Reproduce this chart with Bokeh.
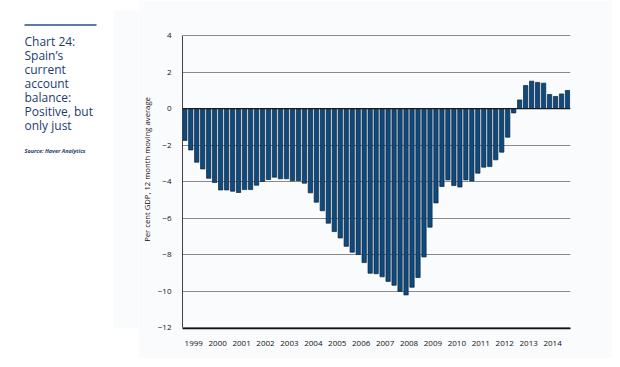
import numpy as np
from bokeh.plotting import figure
from bokeh.models import Range1d, FixedTicker, Span
from bokeh.layouts import row
from bokeh.core.properties import value
from bokeh.embed import file_html
from bokeh.resources import INLINE

# Spain current account balance, % of GDP, 12 month moving average (quarterly, 1999 Q1 - 2015 Q1)
balance = [
    -1.75, -2.27, -2.94, -3.31, -3.82, -4.05, -4.46, -4.46, -4.53, -4.60, -4.44,
    -4.44, -4.20, -4.00, -3.89, -3.76, -3.85, -3.85, -3.96, -3.95, -4.09,
    -4.62, -5.13, -5.60, -6.28, -6.74, -7.09, -7.55, -7.87, -8.00, -8.44, -9.02,
    -9.05, -9.22, -9.47, -9.68, -10.02, -10.21, -9.79, -9.26, -8.13, -6.50, -5.17,
    -4.27, -3.91, -4.22, -4.30, -3.91, -3.97, -3.54, -3.21, -3.18, -2.81, -2.39,
    -1.57, -0.24, 0.47, 1.26, 1.50, 1.43, 1.39, 0.77, 0.66, 0.80, 0.99,
]
years = [str(y) for y in range(1999, 2015)]
y_ticks = [-12, -10, -8, -6, -4, -2, 0, 2, 4]
title_lines = ["Chart 24:", "Spain\u2019s", "current", "account", "balance:", "Positive, but", "only just"]
source_text = "Source: Haver Analytics"
y_label = "Per cent GDP, 12 month moving average"

TITLE_BLUE = "#1d3c6e"
PANEL = "#fafbfd"
FONT = "Open Sans"
H = 358
TOP = 10      # shared frame top (px)
BOTTOM = 328  # shared frame bottom (px)

# ---------------- left text panel ----------------
left = figure(width=138, height=H, x_range=Range1d(0, 138), y_range=Range1d(BOTTOM, TOP),
              x_axis_location=None, y_axis_location=None, title_location=None,
              min_border_left=0, min_border_right=0, min_border_top=TOP, min_border_bottom=H - BOTTOM,
              output_backend="svg", toolbar_location=None)
left.grid.visible = False
left.outline_line_color = None
left.background_fill_color = "white"
left.border_fill_color = "white"
left.quad(left=[113], right=[138], top=[TOP], bottom=[BOTTOM], fill_color=PANEL, line_color=None)
left.segment(x0=[24], y0=[24.5], x1=[96], y1=[24.5], line_color="#5b7ca8", line_width=2)
left.text(x=[24] * len(title_lines), y=[41 + 14 * i for i in range(len(title_lines))],
          text=title_lines, text_font=value(FONT), text_font_size="12px",
          text_color=TITLE_BLUE, text_baseline="alphabetic", text_align="left")
left.text(x=[24], y=[150], text=[source_text], text_font=value(FONT), text_font_size="5.5px",
          text_font_style="bold italic", text_color=TITLE_BLUE, text_baseline="alphabetic")

# ---------------- chart ----------------
xs = np.arange(len(balance)) + 0.5
p = figure(width=474, height=H, x_range=Range1d(0.12, 65.0), y_range=Range1d(-12.05, 5.37),
           min_border_left=43, min_border_right=42, min_border_top=TOP, min_border_bottom=H - BOTTOM,
           title_location=None, output_backend="svg", toolbar_location=None)
p.background_fill_color = PANEL
p.border_fill_color = PANEL
p.outline_line_color = None

p.vbar(x=xs, top=balance, bottom=0, width=0.72, fill_color="#0e4a7e",
       line_color="#0b2238", line_width=0.7)

p.add_layout(Span(location=0, dimension="width", line_color="#1a1a1a", line_width=1.2))

p.xgrid.visible = False
p.ygrid.ticker = FixedTicker(ticks=y_ticks)
p.ygrid.grid_line_color = "#8a8a8a"
p.ygrid.grid_line_width = 1.2

p.yaxis.ticker = FixedTicker(ticks=y_ticks)
p.yaxis.bounds = (min(y_ticks), max(y_ticks))
p.yaxis.major_tick_line_color = None
p.yaxis.minor_tick_line_color = None
p.yaxis.axis_line_color = "#444444"
p.yaxis.axis_line_width = 1
p.yaxis.major_label_standoff = 5
p.yaxis.major_label_text_font = FONT
p.yaxis.major_label_text_font_size = "8px"
p.yaxis.major_label_text_color = "#111111"
p.yaxis.axis_label = y_label
p.yaxis.axis_label_standoff = 3
p.yaxis.axis_label_text_font = FONT
p.yaxis.axis_label_text_font_size = "7.7px"
p.yaxis.axis_label_text_font_style = "normal"
p.yaxis.axis_label_text_color = "#111111"

x_ticks = [2 + 4 * i for i in range(len(years))]
p.xaxis.ticker = FixedTicker(ticks=x_ticks)
p.xaxis.major_label_overrides = {t: y for t, y in zip(x_ticks, years)}
p.xaxis.major_tick_line_color = None
p.xaxis.minor_tick_line_color = None
p.xaxis.axis_line_color = "#111111"
p.xaxis.axis_line_width = 1.5
p.xaxis.major_label_standoff = 6
p.xaxis.major_label_text_font = FONT
p.xaxis.major_label_text_font_size = "8px"
p.xaxis.major_label_text_color = "#111111"

layout = row(left, p)
open("out.html", "w").write(file_html(layout, INLINE))
